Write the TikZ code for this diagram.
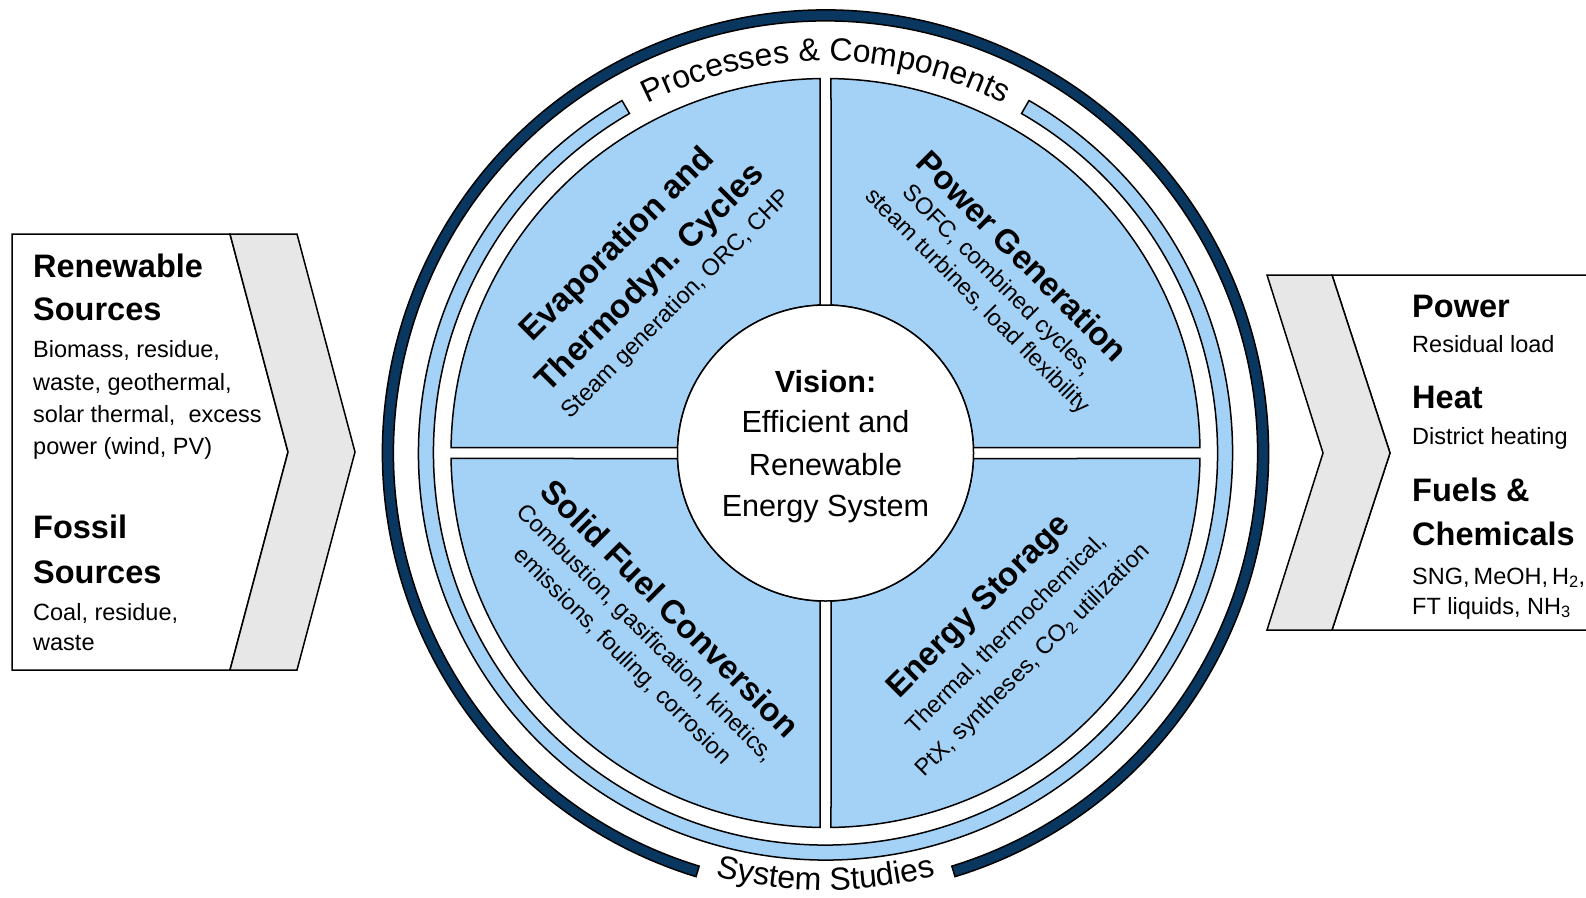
\documentclass[tikz,border=0pt]{standalone}
\usepackage{fontspec}
\setmainfont{Liberation Sans}
\usetikzlibrary{decorations.text,calc}
\definecolor{qblue}{RGB}{164,210,246}
\definecolor{ringnavy}{RGB}{10,55,95}
\definecolor{chevgray}{RGB}{231,231,231}
\newcommand{\hdfont}{\fontsize{32.5}{40}\selectfont\bfseries}
\newcommand{\bdfont}{\fontsize{23.5}{30}\selectfont}
\newcommand{\qtfont}{\fontsize{33}{40}\selectfont\bfseries}
\newcommand{\qsfont}{\fontsize{23.5}{30}\selectfont}
\newcommand{\vtfont}{\fontsize{30.6}{40}\selectfont}
\newcommand{\rgfont}{\fontsize{32}{38}\selectfont}

\begin{document}
\begin{tikzpicture}[x=1pt,y=1pt,
  outline/.style={draw=black, line width=1.5pt, line join=miter},
  hd/.style={anchor=base west, inner sep=0pt, font=\hdfont},
  bd/.style={anchor=base west, inner sep=0pt, font=\bdfont},
  qt/.style={anchor=base, inner sep=0pt, font=\qtfont},
  qs/.style={anchor=base, inner sep=0pt, font=\qsfont},
  vt/.style={anchor=base, inner sep=0pt, font=\vtfont},
]
\useasboundingbox (0,0) rectangle (1586,-897);
\fill[white] (0,0) rectangle (1586,-897);

% input side: white panel with grey chevron
\draw[outline, fill=white] (12,-234) -- (230,-234) -- (288,-452) -- (230,-670) -- (12,-670) -- cycle;
\draw[outline, fill=chevgray] (230,-234) -- (297,-234) -- (355,-452) -- (297,-670) -- (230,-670) -- (288,-452) -- cycle;

% output side: grey chevron with white panel
\draw[outline, fill=white] (1332,-275) -- (1600,-275) -- (1600,-630) -- (1332,-630) -- (1390,-453) -- cycle;
\draw[outline, fill=chevgray] (1267,-275) -- (1332,-275) -- (1390,-453) -- (1332,-630) -- (1267,-630) -- (1323,-453) -- cycle;

\coordinate (O) at (825.5,-453);
\begin{scope}[shift={(O)}]
  % outer navy ring, open at the bottom
  \draw[outline, fill=ringnavy] (-73:443) arc[start angle=-73, end angle=253, radius=443]
    -- (253:432) arc[start angle=253, end angle=-73, radius=432] -- cycle;
  % thin blue ring, open at the top
  \draw[outline, fill=qblue] (120:407) arc[start angle=120, end angle=420, radius=407]
    -- (60:392) arc[start angle=420, end angle=120, radius=392] -- cycle;
  % four sectors
  \foreach \q in {0,90,180,270}{
    \draw[outline, fill=qblue] ({\q+2.13}:148) -- ({\q+0.84}:374.5)
      arc[start angle={\q+0.84}, end angle={\q+89.16}, radius=374.5]
      -- ({\q+87.87}:148) arc[start angle={\q+87.87}, end angle={\q+2.13}, radius=148] -- cycle;
  }
  % ring labels
  \path[decorate, decoration={text along path, text align=center,
      text={|\rgfont|Processes {\&} Components}}]
    (140:392) arc[start angle=140, end angle=40, radius=392];
  \path[decorate, decoration={text along path, text align=center,
      text={|\rgfont|System Studies}}]
    (-130:437) arc[start angle=-130, end angle=-50, radius=437];
\end{scope}

% centre circle
\node[circle, outline, fill=white, minimum size=296pt, inner sep=0pt] (vision) at (O) {};
\node[vt, font=\vtfont\bfseries] (v1) at (825.5,-392) {Vision:};
\node[vt] (v2) at (825.5,-432) {Efficient and};
\node[vt] (v3) at (825.5,-475) {Renewable};
\node[vt] (v4) at (825.5,-516) {Energy System};

% sector texts
\node[qt, rotate=45] (nw1) at ($(O)+(135:285)$) {Evaporation and};
\node[qt, rotate=45] (nw2) at ($(O)+(135:238)$) {Thermodyn. Cycles};
\node[qs, rotate=45] (nw3) at ($(O)+(135:204)$) {Steam generation, ORC, CHP};

\node[qt, rotate=-45] (ne1) at ($(O)+(45:267)$) {Power Generation};
\node[qs, rotate=-45] (ne2) at ($(O)+(45:237)$) {SOFC, combined cycles,};
\node[qs, rotate=-45] (ne3) at ($(O)+(45:208)$) {steam turbines, load flexibility};

\node[qt, rotate=-45] (sw1) at ($(O)+(225:231)$) {Solid Fuel Conversion};
\node[qs, rotate=-45] (sw2) at ($(O)+(225:262)$) {Combustion, gasification, kinetics,};
\node[qs, rotate=-45] (sw3) at ($(O)+(225:294)$) {emissions, fouling, corrosion};

\node[qt, rotate=45] (se1) at ($(O)+(315:226)$) {Energy Storage};
\node[qs, rotate=45] (se2) at ($(O)+(315:263)$) {Thermal, thermochemical,};
\node[qs, rotate=45] (se3) at ($(O)+(315:300)$) {PtX, syntheses, CO\textsubscript{2} utilization};

% input panel texts
\node[hd] (in1) at (33,-277) {Renewable};
\node[hd] (in2) at (33,-320) {Sources};
\node[bd] (in3) at (33,-357) {Biomass, residue,};
\node[bd] (in4) at (33,-390) {waste, geothermal,};
\node[bd] (in5) at (33,-422) {solar thermal, \ excess};
\node[bd] (in6) at (33,-454) {power (wind, PV)};
\node[hd] (in7) at (33,-538) {Fossil};
\node[hd] (in8) at (33,-583) {Sources};
\node[bd] (in9) at (33,-620) {Coal, residue,};
\node[bd] (in10) at (33,-650) {waste};

% output panel texts
\node[hd] (out1) at (1412,-317) {Power};
\node[bd] (out2) at (1412,-352) {Residual load};
\node[hd] (out3) at (1412,-408) {Heat};
\node[bd] (out4) at (1412,-444) {District heating};
\node[hd] (out5) at (1412,-501) {Fuels \&};
\node[hd] (out6) at (1412,-545) {Chemicals};
\node[bd] (out7) at (1412,-584) {SNG,\hspace{4pt}MeOH,\hspace{4pt}H\textsubscript{2},};
\node[bd] (out8) at (1412,-614) {FT liquids, NH\textsubscript{3}};
\end{tikzpicture}
\end{document}
